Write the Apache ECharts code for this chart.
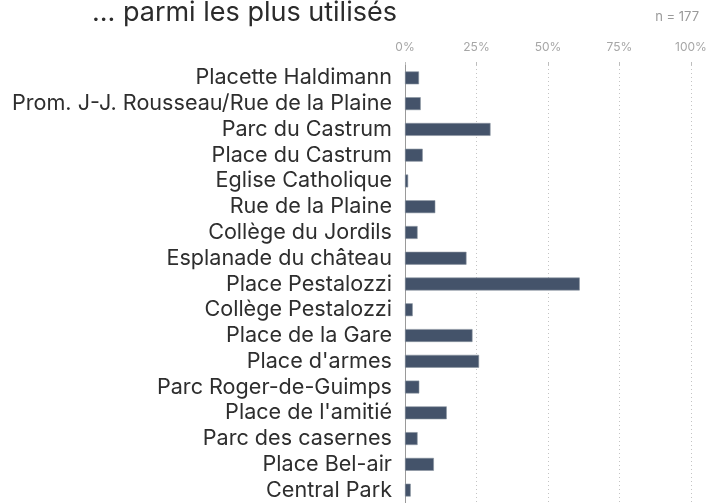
<!DOCTYPE html>
<html>
<head>
<meta charset="utf-8">
<script src="https://cdn.jsdelivr.net/npm/echarts@6/dist/echarts.min.js"></script>
<style>
  html, body { margin: 0; padding: 0; background: #fff; }
  #chart { width: 721px; height: 503px; }
</style>
</head>
<body>
<div id="chart"></div>
<script>
// Places listed top to bottom
const places = [
  "Placette Haldimann",
  "Prom. J-J. Rousseau/Rue de la Plaine",
  "Parc du Castrum",
  "Place du Castrum",
  "Eglise Catholique",
  "Rue de la Plaine",
  "Collège du Jordils",
  "Esplanade du château",
  "Place Pestalozzi",
  "Collège Pestalozzi",
  "Place de la Gare",
  "Place d'armes",
  "Parc Roger-de-Guimps",
  "Place de l'amitié",
  "Parc des casernes",
  "Place Bel-air",
  "Central Park"
];

// Share of respondents (%) per place
const shares = [4.9, 5.5, 29.9, 6.2, 1.1, 10.6, 4.4, 21.5, 61.1, 2.7, 23.6, 25.9, 5.0, 14.6, 4.4, 10.1, 2.0];

const titleText = "... parmi les plus utilisés";
const sampleText = "n = 177";
const font = "Inter, 'Noto Sans', sans-serif";

const chart = echarts.init(document.getElementById("chart"), null, { renderer: "canvas" });

chart.setOption({
  animation: false,
  backgroundColor: "#ffffff",
  textStyle: { fontFamily: font },
  title: [
    {
      text: titleText,
      left: 87,
      top: -6,
      textStyle: { fontFamily: font, fontSize: 27, fontWeight: 400, color: "#2b2b2b" }
    },
    {
      text: sampleText,
      right: 17,
      top: 6,
      textStyle: { fontFamily: font, fontSize: 13, fontWeight: 400, color: "#9a9a9a" }
    }
  ],
  grid: { left: 405, right: 30, top: 65, height: 442, containLabel: false },
  xAxis: {
    type: "value",
    position: "top",
    min: 0,
    max: 100,
    interval: 25,
    axisLine: { show: false },
    axisTick: { show: true, length: 3, lineStyle: { color: "#bdbdbd" } },
    axisLabel: { formatter: "{value}%", color: "#a6a6a6", fontSize: 12, margin: 12, fontFamily: font },
    splitLine: { show: true, lineStyle: { color: "#c4c4c4", type: [1, 3], width: 1 } }
  },
  yAxis: {
    type: "category",
    inverse: true,
    data: places,
    axisLine: { show: true, lineStyle: { color: "#9a9a9a", width: 1 } },
    axisTick: { show: false },
    axisLabel: { interval: 0, color: "#2e2e2e", fontSize: 21.6, margin: 13, fontFamily: font },
    splitLine: { show: false }
  },
  series: [
    {
      type: "bar",
      data: shares,
      barWidth: "50%",
      itemStyle: { color: "#44536a", borderColor: "#8a93a0", borderWidth: 0.6 },
      z: 3
    }
  ]
});
</script>
</body>
</html>
